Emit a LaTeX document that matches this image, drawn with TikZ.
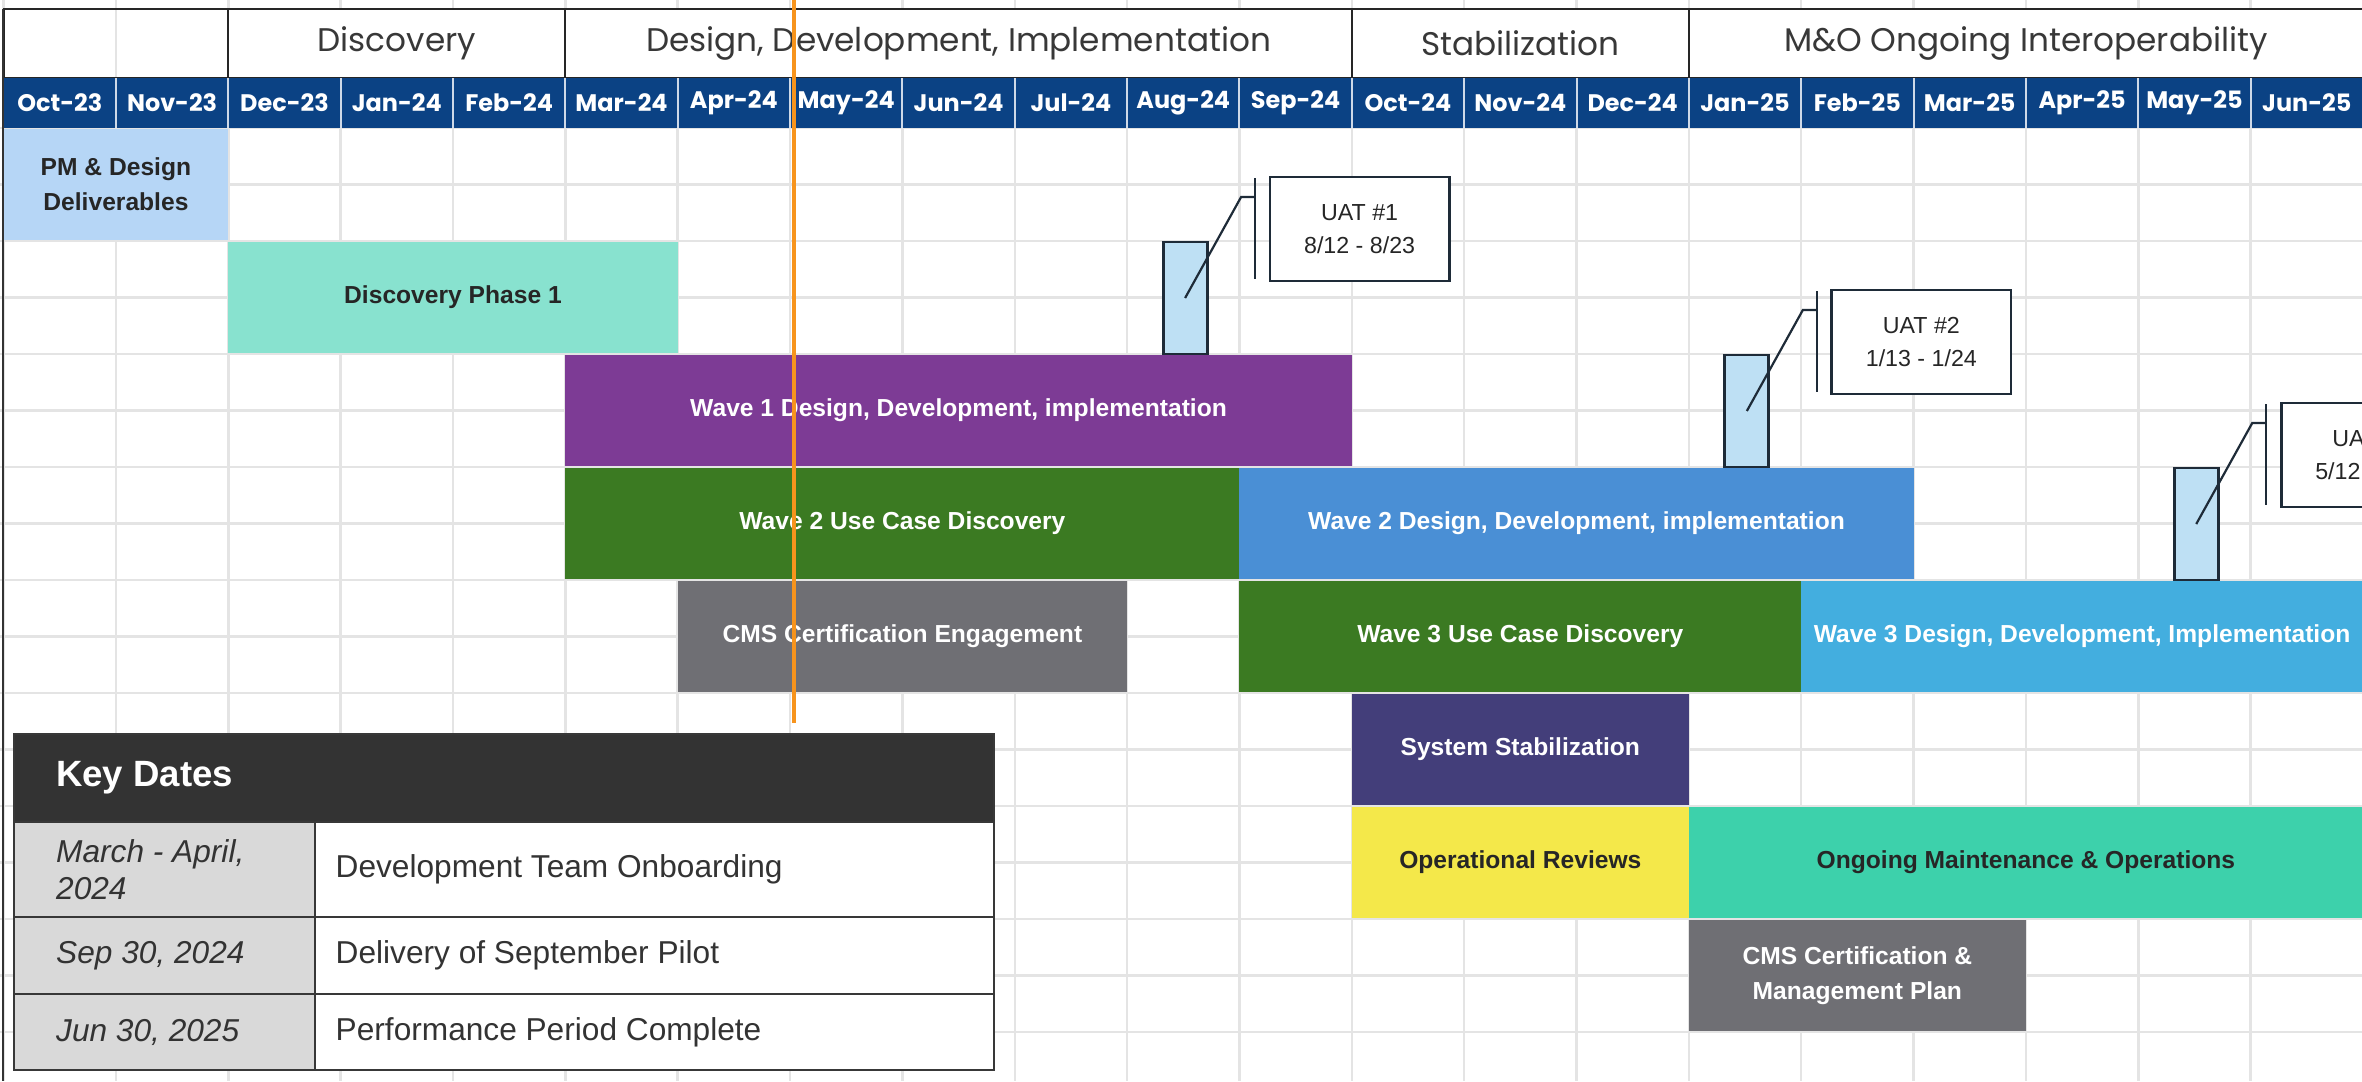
\documentclass[tikz,border=0pt]{standalone}
\usepackage{fontspec}
\setmainfont{Liberation Sans}
\newfontfamily\popfont{Poppins}
\usetikzlibrary{positioning,fit}

\definecolor{navyhead}{HTML}{0B4284}
\definecolor{gridgray}{HTML}{E4E4E4}
\definecolor{pmblue}{HTML}{B6D6F6}
\definecolor{mint}{HTML}{88E2CF}
\definecolor{wavepurple}{HTML}{7D3B95}
\definecolor{wavegreen}{HTML}{3B7A22}
\definecolor{waveblue}{HTML}{4A8FD5}
\definecolor{skyblue}{HTML}{43AEDF}
\definecolor{cmsgray}{HTML}{6F6F74}
\definecolor{stabnavy}{HTML}{433E7A}
\definecolor{opyellow}{HTML}{F4E84A}
\definecolor{omteal}{HTML}{3DD1AB}
\definecolor{uatfill}{HTML}{BEE0F4}
\definecolor{inkdark}{HTML}{1E2B38}
\definecolor{todayorange}{HTML}{F7941D}
\definecolor{tablehead}{HTML}{333333}
\definecolor{tablegray}{HTML}{D9D9D9}
\definecolor{tabletext}{HTML}{333333}

\begin{document}
\begin{tikzpicture}[x=0.01cm, y=-0.01cm,
        span/.style n args={3}{at={({3.6+56.175*(#1+#2)},{184.5+113*#3})}, minimum width={1.1235cm*(#2-#1)}, minimum height=1.10cm},
        phasespan/.style n args={2}{at={({3.6+56.175*(#1+#2)},43.5)}, minimum width={1.1235cm*(#2-#1)}, minimum height=0.69cm},
        bar/.style={inner sep=0pt, text=white, align=center, font=\fontsize{7}{10}\selectfont\bfseries},
        darkbar/.style={bar, text=black!85},
        phase/.style={draw=black!85, line width=0.2mm, fill=white, inner sep=0pt, text=black!78, font=\popfont\fontsize{9.3}{11}\selectfont},
        month/.style={text=white, inner sep=0pt, font=\popfont\bfseries\fontsize{6.8}{9}\selectfont},
        uatbar/.style={draw=inkdark, line width=0.28mm, fill=uatfill, inner sep=0pt},
        uatline/.style={draw=inkdark, line width=0.22mm},
        uatbox/.style={draw=inkdark, line width=0.28mm, fill=white, inner sep=0pt, minimum width=1.79cm, minimum height=1.04cm, align=center, text=black!85, font=\fontsize{6.6}{9.6}\selectfont},
        cell/.style={draw=black!78, line width=0.25mm, inner sep=0pt},
        celltext/.style={anchor=west, inner sep=0pt, text=tabletext, align=left, font=\fontsize{9}{10.4}\selectfont}]
    \useasboundingbox (0,0) rectangle (2362,1081);
    \clip (0,0) rectangle (2362,1081);
    \fill[white] (0,0) rectangle (2362,1081);

    \foreach \k in {0,...,21}
        \draw[gridgray, line width=0.25mm] ({3.6+112.35*\k},0) -- ({3.6+112.35*\k},1081);
    \foreach \j in {0,...,17}
        \draw[gridgray, line width=0.25mm] (0,{128+56.5*\j}) -- (2362,{128+56.5*\j});

    \node[phase, fill=none, phasespan={0}{2}] (blankhead) {};
    \node[phase, phasespan={2}{5}] (discovery) {Discovery};
    \node[phase, phasespan={5}{12}] (designdev) {Design, Development, Implementation};
    \node[phase, phasespan={12}{15}] (stabilization) {Stabilization};
    \node[phase, phasespan={15}{21}] (mando) {M\&O Ongoing Interoperability};

    \node[fill=navyhead, inner sep=0pt, fit={(3.6,78) (2364,128)}] (monthrow) {};
    \foreach \k in {1,...,20}
        \draw[white!80!navyhead, line width=0.2mm] ({3.6+112.35*\k},78) -- ({3.6+112.35*\k},128);
    \foreach \m [count=\i from 0] in {Oct-23,Nov-23,Dec-23,Jan-24,Feb-24,Mar-24,Apr-24,May-24,Jun-24,Jul-24,Aug-24,Sep-24,Oct-24,Nov-24,Dec-24,Jan-25,Feb-25,Mar-25,Apr-25,May-25,Jun-25}
        \node[month] (m\i) at ({59.775+112.35*\i},103) {\m};

    \node[darkbar, fill=pmblue, span={0}{2}{0}] (pmdesign) {PM \& Design\\Deliverables};
    \node[darkbar, fill=mint, span={2}{6}{1}] (discphase) {Discovery Phase 1};
    \node[bar, fill=wavepurple, span={5}{12}{2}] (waveonedd) {Wave 1 Design, Development, implementation};
    \node[bar, fill=wavegreen, span={5}{11}{3}] (wavetwoucd) {Wave 2 Use Case Discovery};
    \node[bar, fill=waveblue, span={11}{17}{3}] (wavetwodd) {Wave 2 Design, Development, implementation};
    \node[bar, fill=cmsgray, span={6}{10}{4}] (cmsengage) {CMS Certification Engagement};
    \node[bar, fill=wavegreen, span={11}{16}{4}] (wavethreeucd) {Wave 3 Use Case Discovery};
    \node[bar, fill=skyblue, span={16}{21}{4}] (wavethreedd) {Wave 3 Design, Development, Implementation};
    \node[bar, fill=stabnavy, span={12}{15}{5}] (sysstab) {System Stabilization};
    \node[darkbar, fill=opyellow, span={12}{15}{6}] (opreviews) {Operational Reviews};
    \node[darkbar, fill=omteal, span={15}{21}{6}] (ongoingmo) {Ongoing Maintenance \& Operations};
    \node[bar, fill=cmsgray, span={15}{18}{7}] (cmsplan) {CMS Certification \&\\Management Plan};

    \foreach \u/\col/\row/\ta/\tb in {1/10/1/{UAT \#1}/{8/12 - 8/23}, 2/15/2/{UAT \#2}/{1/13 - 1/24}, 3/19/3/{UAT \#3}/{5/12 - 5/23}}{
        \pgfmathsetmacro\ux{39.6+112.35*\col}
        \pgfmathsetmacro\uy{128+113*\row}
        \node[uatbar, fit={(\ux,\uy+1) (\ux+44,\uy+113)}] (uatbar\u) {};
        \coordinate (uatknee\u) at (\ux+78,\uy-44);
        \coordinate (uattick\u) at (\ux+92,\uy-44);
        \coordinate (uattop\u) at (\ux+92,\uy-63);
        \coordinate (uatbot\u) at (\ux+92,\uy+38);
        \node[uatbox] (uatbox\u) at (\ux+196.5,\uy-12) {\ta\\\tb};
        \draw[uatline] (uatbar\u.center) -- (uatknee\u) -- (uattick\u);
        \draw[uatline] (uattop\u) -- (uatbot\u);
    }

    \node[cell, fill=tablehead, fit={(14,734) (994,822)}] (keyhead) {};
    \node[anchor=west, inner sep=0pt, text=white, font=\fontsize{10.4}{12}\selectfont\bfseries] (keytitle) at (55.5,778) {Key Dates};
    \foreach \n/\top/\bot/\dt/\ev in {a/822/917/{March - April,\\2024}/{Development Team Onboarding}, b/917/994/{Sep 30, 2024}/{Delivery of September Pilot}, c/994/1070/{Jun 30, 2025}/{Performance Period Complete}}{
        \node[cell, fill=tablegray, fit={(14,\top) (315,\bot)}] (date\n) {};
        \node[cell, fill=white, fit={(315,\top) (994,\bot)}] (event\n) {};
        \node[celltext, font=\fontsize{9}{10.4}\selectfont\itshape] (datetext\n) at (55.5,{(\top+\bot)/2}) {\dt};
        \node[celltext] (eventtext\n) at (335,{(\top+\bot)/2}) {\ev};
    }

    \draw[black!80, line width=0.25mm] (3,9) -- (3,1081);
    \coordinate (todaytop) at (794,0);
    \coordinate (todaybot) at (794,723);
    \draw[todayorange, line width=0.45mm] (todaytop) -- (todaybot);
\end{tikzpicture}
\end{document}
